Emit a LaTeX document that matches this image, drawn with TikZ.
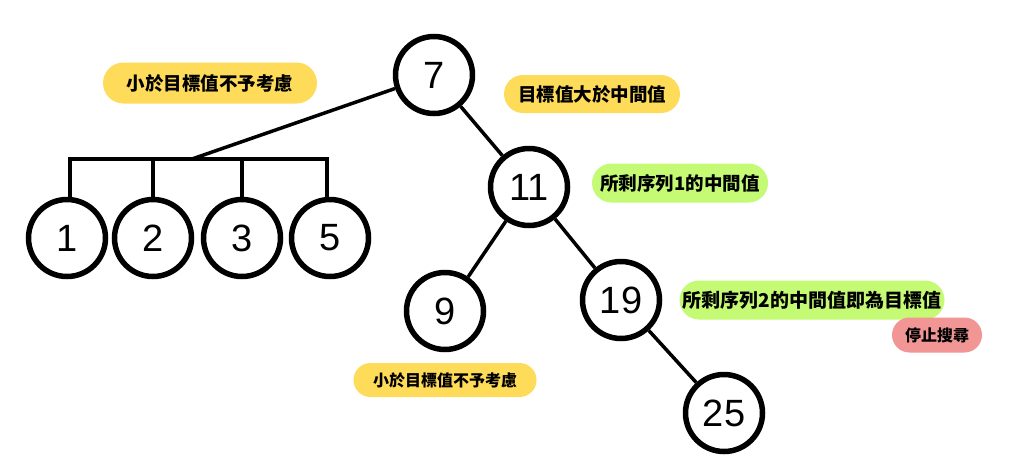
\documentclass[tikz,border=0pt]{standalone}
\usepackage{fontspec}
\setmainfont{Liberation Sans}
\newfontfamily\cjk{Noto Sans CJK TC}
\definecolor{tagyellow}{HTML}{FFDB5A}
\definecolor{taggreen}{HTML}{C4FA74}
\definecolor{tagpink}{HTML}{F29595}
\tikzset{
  num/.style={circle, draw=black, line width=5.5pt, minimum size=77pt, inner sep=0pt, fill=white,
    font=\fontsize{38}{38}\selectfont},
  tag/.style={fill=#1, inner sep=0pt, text=black},
  conn/.style={line width=3.5pt, line join=miter},
}
\begin{document}
\begin{tikzpicture}[x=1pt,y=-1pt]
\useasboundingbox (0,0) rectangle (1024,474);
\fill[white] (0,0) rectangle (1024,474);
% nodes
\node[num] (n7) at (434,75) {7};
\node[num] (n1) at (67,238) {1};
\node[num] (n2) at (153,238) {2};
\node[num] (n3) at (242,238) {3};
\node[num] (n5) at (330,238) {5};
\node[num] (n11) at (529,187) {11};
\node[num] (n9) at (445,311) {9};
\node[num] (n19) at (621,300) {19};
\node[num] (n25) at (724,413) {25};
% labels
\node[tag=tagyellow, minimum width=214pt, minimum height=41pt, rounded corners=20.5pt,
  font=\cjk\bfseries\fontsize{18.5}{18.5}\selectfont] (l1) at (210,83) {小於目標值不予考慮};
\node[tag=tagyellow, minimum width=176pt, minimum height=38pt, rounded corners=19pt,
  font=\cjk\bfseries\fontsize{18.5}{18.5}\selectfont] (l2) at (592,94) {目標值大於中間值};
\node[tag=taggreen, minimum width=176pt, minimum height=39pt, rounded corners=19.5pt,
  font=\cjk\bfseries\fontsize{18.5}{18.5}\selectfont] (l3) at (680,183) {所剩序列1的中間值};
\node[tag=taggreen, minimum width=265pt, minimum height=39pt, rounded corners=19.5pt,
  font=\cjk\bfseries\fontsize{19}{19}\selectfont] (l4) at (812,300) {所剩序列2的中間值即為目標值};
\node[tag=tagpink, minimum width=90pt, minimum height=35pt, rounded corners=17.5pt,
  font=\cjk\bfseries\fontsize{16}{16}\selectfont] (l5) at (937,335) {停止搜尋};
\node[tag=tagyellow, minimum width=183pt, minimum height=34pt, rounded corners=17pt,
  font=\cjk\bfseries\fontsize{16}{16}\selectfont] (l6) at (445,380) {小於目標值不予考慮};
% bracket
\coordinate (bj) at (192,159);
\coordinate (bar) at (0,159);
\draw[conn] (n7) -- (bj);
\draw[conn] ([xshift=3pt]n1.north) |- ([xshift=-3pt]n5.north |- bar) -- ([xshift=-3pt]n5.north);
\draw[conn] (n2.north) -- (n2.north |- bar);
\draw[conn] (n3.north) -- (n3.north |- bar);
% tree edges
\draw[conn] (n7) -- (n11);
\draw[conn] (n11) -- (n9);
\draw[conn] (n11) -- (n19);
\draw[conn] (n19) -- (n25);
\end{tikzpicture}
\end{document}
